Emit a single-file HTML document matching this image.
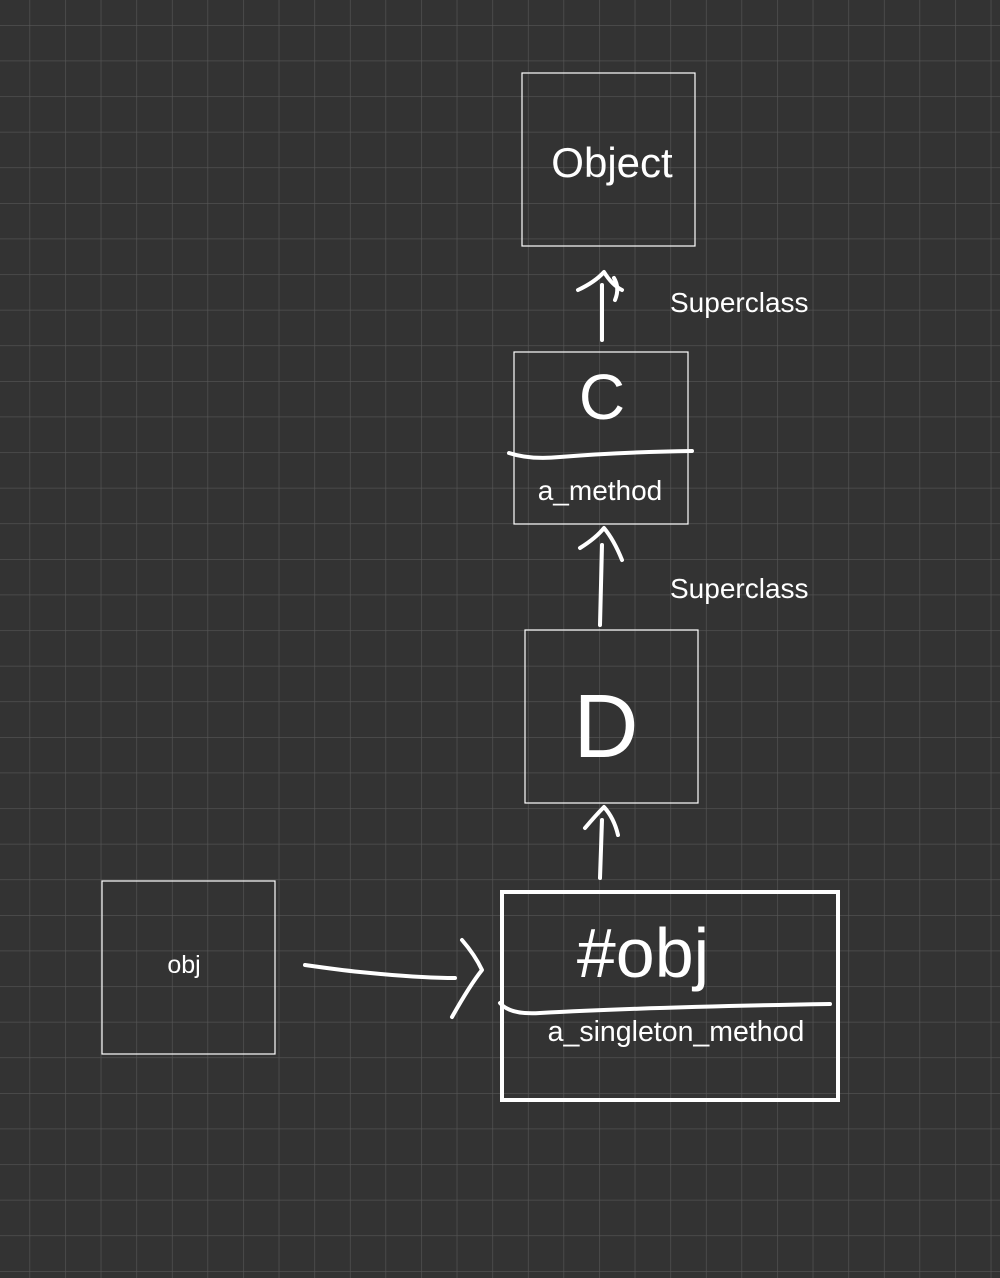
<!DOCTYPE html>
<html><head><meta charset="utf-8"><style>
html,body{margin:0;padding:0;background:#333;}
svg{display:block}
text{font-family:"Liberation Sans",sans-serif;fill:#fff}
</style></head><body>
<svg width="1000" height="1278" viewBox="0 0 1000 1278" xmlns="http://www.w3.org/2000/svg">
<defs>
<pattern id="g" x="29.5" y="25" width="35.6" height="35.6" patternUnits="userSpaceOnUse">
<path d="M0 0 H35.6 M0 0 V35.6" stroke="#565656" stroke-width="1.3" fill="none"/>
</pattern>
</defs>
<rect width="1000" height="1278" fill="#333"/>
<rect width="1000" height="1278" fill="url(#g)"/>
<g fill="none" stroke="#fff">
<rect x="522" y="73" width="173" height="173" stroke-width="1.2"/>
<rect x="514" y="352" width="174" height="172" stroke-width="1.2"/>
<rect x="525" y="630" width="173" height="173" stroke-width="1.2"/>
<rect x="102" y="881" width="173" height="173" stroke-width="1.2"/>
<rect x="502" y="892" width="336" height="208" stroke-width="4"/>
</g>
<g fill="none" stroke="#fff" stroke-width="4" stroke-linecap="round" stroke-linejoin="round">
<path d="M509 453 Q530 460 560 457 Q620 452 692 451"/>
<path d="M500 1003 Q510 1015 540 1013 Q650 1007 830 1004"/>
<path d="M602 340 L602 285 M578 290 Q595 282 604 272 Q612 285 622 290 M615 300 Q620 288 614 278"/>
<path d="M600 625 L602 545 M580 548 Q596 538 604 528 Q614 540 622 560"/>
<path d="M600 878 L602 820 M585 828 Q596 815 604 807 Q614 818 618 835"/>
<path d="M305 965 Q340 970 360 972 Q420 978 455 978"/>
<path d="M452 1017 Q470 985 482 970 Q475 955 462 940"/>
</g>
<text x="612" y="177" font-size="42" text-anchor="middle">Object</text>
<text x="602" y="419" font-size="64" text-anchor="middle">C</text>
<text x="600" y="500" font-size="28" text-anchor="middle">a_method</text>
<text x="606" y="757" font-size="90" text-anchor="middle">D</text>
<text x="184" y="973" font-size="25" text-anchor="middle">obj</text>
<text x="643" y="977" font-size="70" text-anchor="middle">#obj</text>
<text x="676" y="1041" font-size="28.5" text-anchor="middle">a_singleton_method</text>
<text x="670" y="312" font-size="28">Superclass</text>
<text x="670" y="598" font-size="28">Superclass</text>
</svg>
</body></html>
